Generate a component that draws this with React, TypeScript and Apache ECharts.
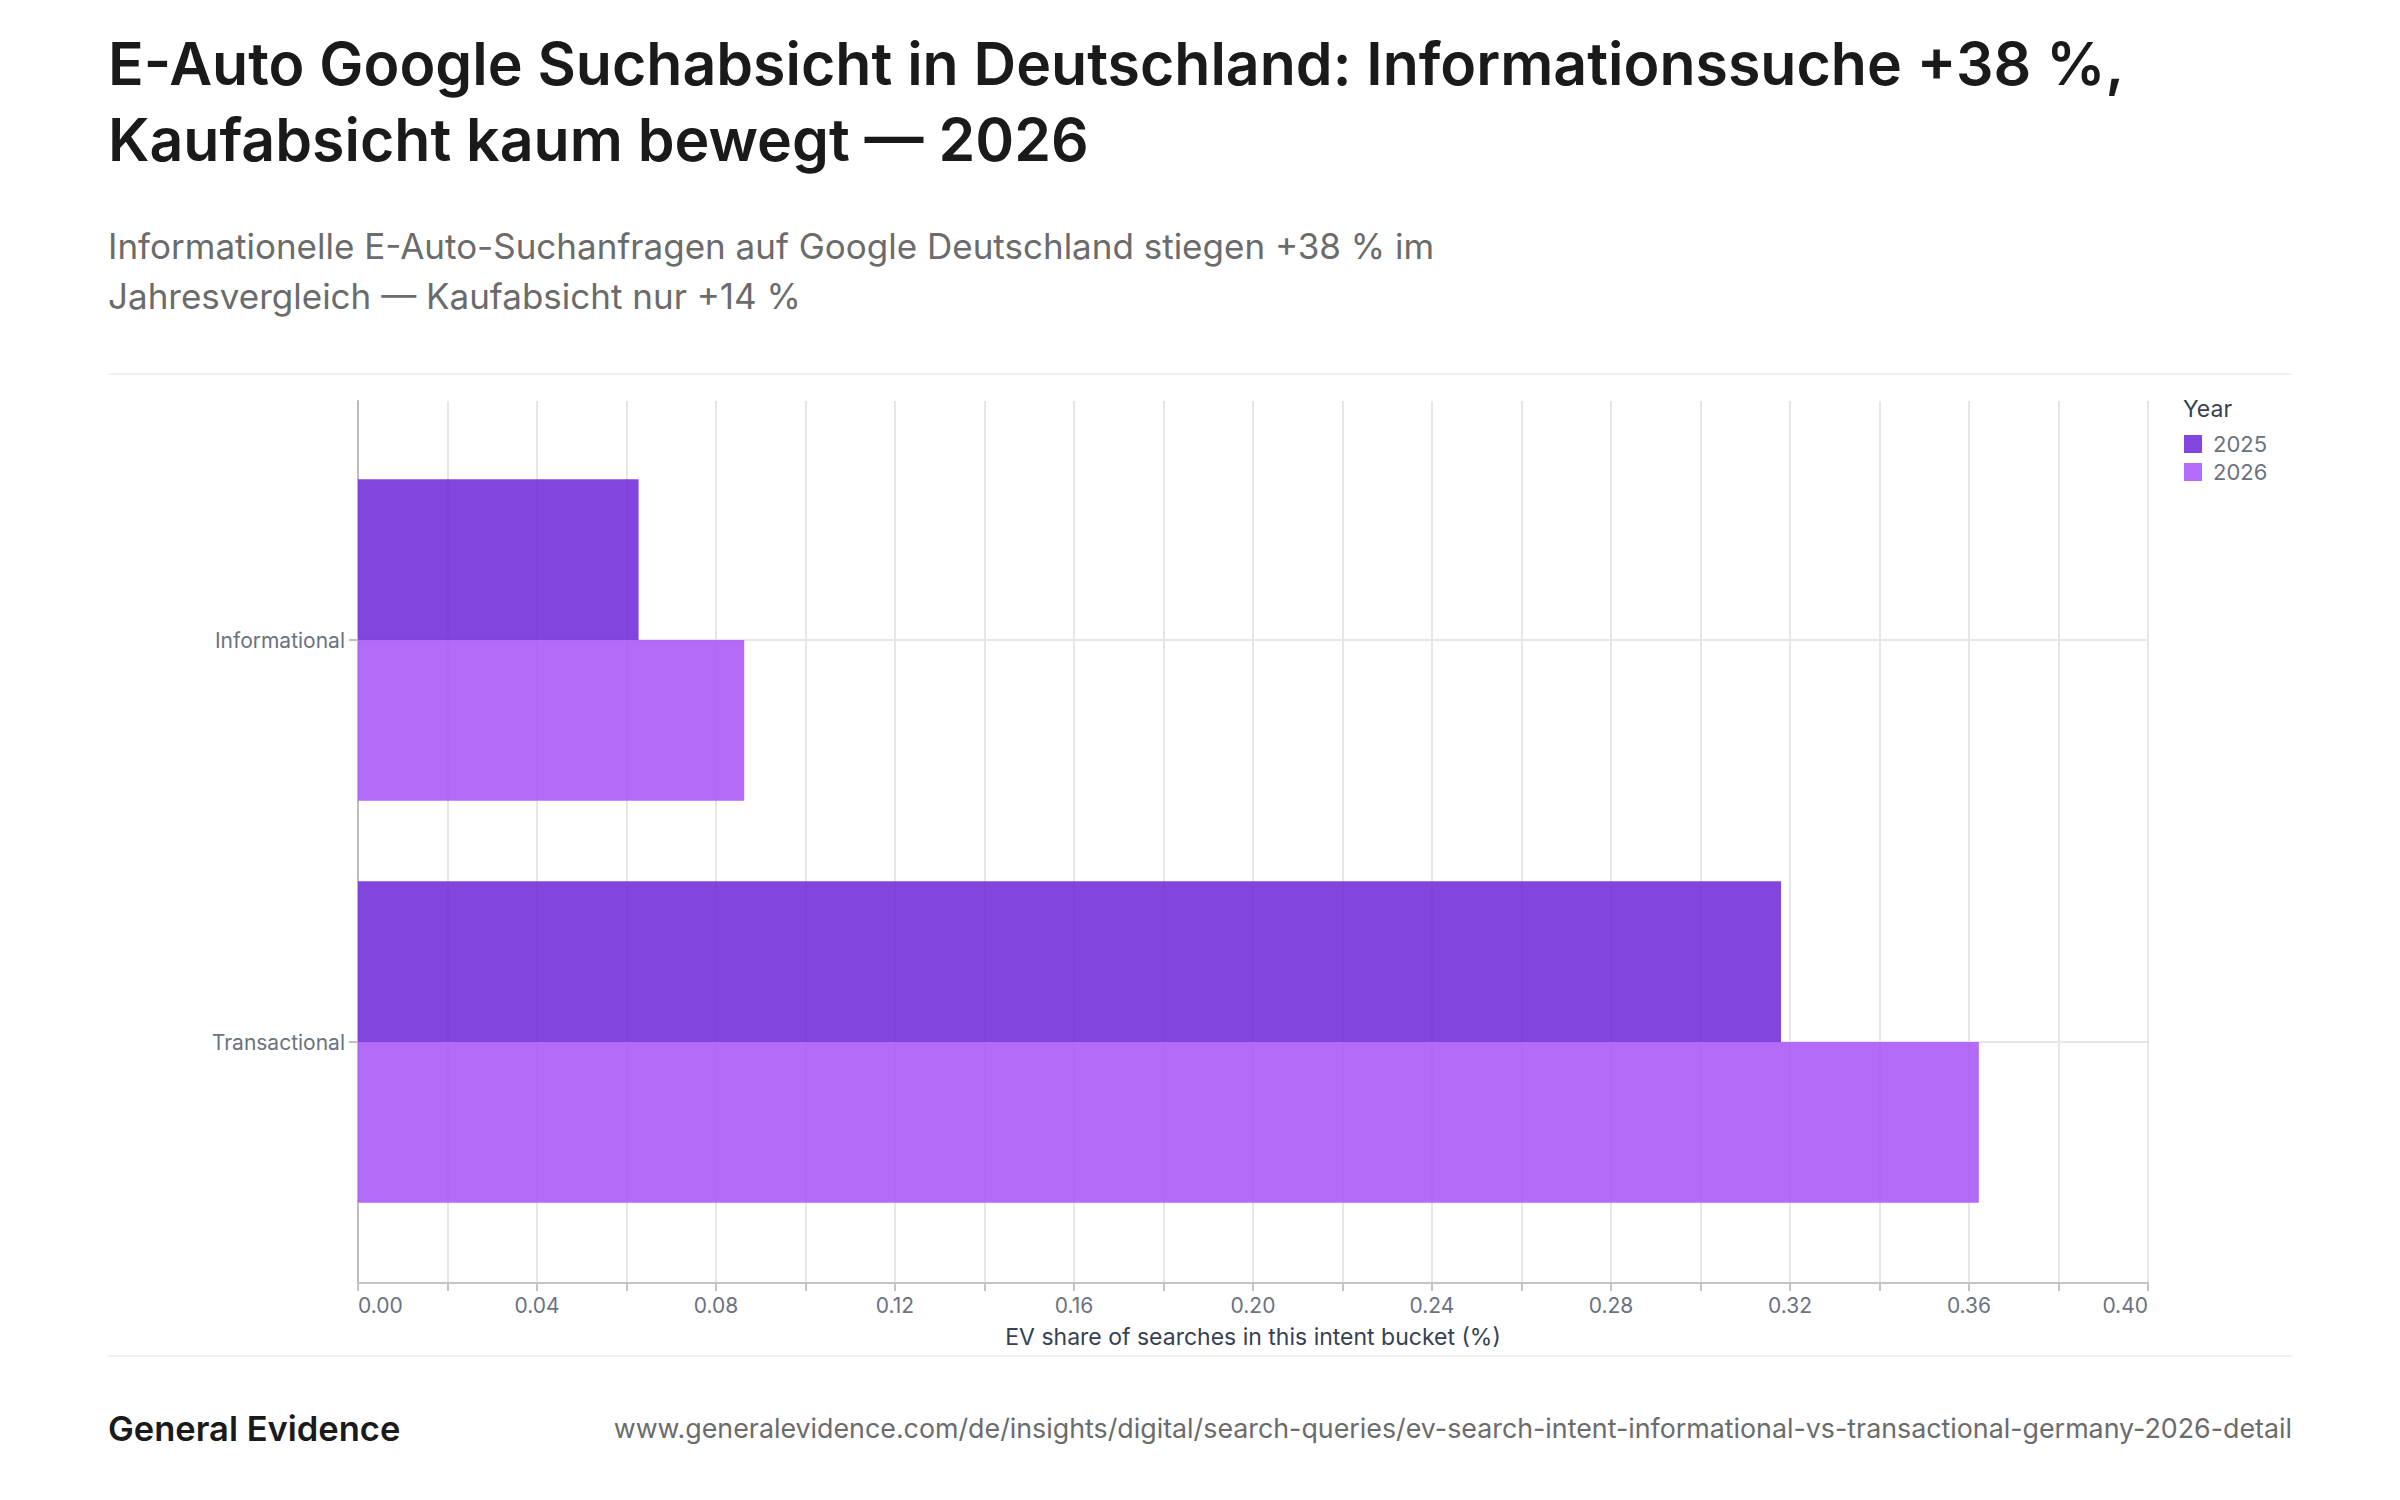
import React, { useEffect, useRef } from 'react';
import * as echarts from 'echarts';

// Werte
const categories = ['Informational', 'Transactional'];
const years = ['2025', '2026'];
const share2025 = [0.0627, 0.318];
const share2026 = [0.0863, 0.3622];
const xMin = 0;
const xMax = 0.4;
const xStep = 0.02;

const titleLines = [
  'E-Auto Google Suchabsicht in Deutschland: Informationssuche +38 %,',
  'Kaufabsicht kaum bewegt — 2026',
];
const subtitleLines = [
  'Informationelle E-Auto-Suchanfragen auf Google Deutschland stiegen +38 % im',
  'Jahresvergleich — Kaufabsicht nur +14 %',
];
const xAxisName = 'EV share of searches in this intent bucket (%)';
const legendTitle = 'Year';
const brand = 'General Evidence';
const sourceUrl =
  'www.generalevidence.com/de/insights/digital/search-queries/ev-search-intent-informational-vs-transactional-germany-2026-detail';

const FONT = 'Inter, "Noto Sans", sans-serif';
const colors = ['#6D28D9', '#A855F7'];
const gridColor = '#e6e6e6';
const axisColor = '#c4c4c4';

const App: React.FC = () => {
  const chartRef = useRef<HTMLDivElement>(null);

  useEffect(() => {
    document.body.style.margin = '0';
    if (!chartRef.current) return;
    const chart = echarts.init(chartRef.current, undefined, { renderer: 'svg' });

    const option: any = {
      animation: false,
      backgroundColor: '#ffffff',
      textStyle: { fontFamily: FONT },
      grid: [
        // Rahmen mit Achsen und Gitterlinien
        { left: 358, right: 252, top: 401, bottom: 217 },
        // Balkenbereich (mit Innenabstand wie im Original)
        { left: 358, right: 252, top: 439, bottom: 257 },
      ],
      xAxis: [
        {
          gridIndex: 0,
          type: 'value',
          min: xMin,
          max: xMax,
          interval: xStep,
          name: xAxisName,
          nameLocation: 'middle',
          nameGap: 42,
          nameTextStyle: { color: '#374151', fontSize: 23, fontFamily: FONT },
          axisLine: { show: true, lineStyle: { color: axisColor, width: 2 } },
          axisTick: { show: true, length: 8, lineStyle: { color: axisColor, width: 2 } },
          axisLabel: {
            color: '#6b7280',
            fontSize: 21,
            margin: 12,
            fontFamily: FONT,
            alignMinLabel: 'left',
            alignMaxLabel: 'right',
            formatter: (v: number) => (Math.round(v * 100) % 4 === 0 ? v.toFixed(2) : ''),
          },
          splitLine: { show: true, lineStyle: { color: gridColor, width: 2 } },
        },
        {
          gridIndex: 1,
          type: 'value',
          min: xMin,
          max: xMax,
          show: false,
        },
      ],
      yAxis: [
        {
          gridIndex: 0,
          type: 'value',
          min: 0,
          max: 1,
          axisLine: { show: true, lineStyle: { color: '#bdbdbd', width: 2 } },
          axisTick: { show: false },
          axisLabel: { show: false },
          splitLine: { show: false },
        },
        {
          gridIndex: 1,
          type: 'category',
          data: categories,
          inverse: true,
          axisLine: { show: false },
          axisTick: {
            show: true,
            alignWithLabel: true,
            length: 9,
            lineStyle: { color: '#bdbdbd', width: 2 },
          },
          axisLabel: { color: '#6b7280', fontSize: 21, margin: 13, fontFamily: FONT },
          splitLine: { show: false },
        },
      ],
      legend: {
        orient: 'vertical',
        left: 2184,
        top: 433,
        padding: 0,
        data: years,
        icon: 'rect',
        itemWidth: 18,
        itemHeight: 18,
        itemGap: 6,
        textStyle: {
          color: '#6b7280',
          fontSize: 22,
          fontFamily: FONT,
          padding: [0, 0, 0, 6],
        },
      },
      series: [
        {
          // nur für die waagrechten Gitterlinien in Kategoriemitte
          type: 'line',
          xAxisIndex: 1,
          yAxisIndex: 1,
          data: [],
          silent: true,
          z: 1,
          markLine: {
            silent: true,
            z: 1,
            symbol: ['none', 'none'],
            label: { show: false },
            lineStyle: { color: gridColor, width: 2, type: 'solid' },
            data: categories.map((c) => ({ yAxis: c })),
          },
        },
        {
          name: years[0],
          type: 'bar',
          xAxisIndex: 1,
          yAxisIndex: 1,
          data: share2025,
          barGap: '0%',
          barCategoryGap: '20%',
          itemStyle: { color: colors[0], opacity: 0.86 },
          z: 2,
        },
        {
          name: years[1],
          type: 'bar',
          xAxisIndex: 1,
          yAxisIndex: 1,
          data: share2026,
          barGap: '0%',
          barCategoryGap: '20%',
          itemStyle: { color: colors[1], opacity: 0.87 },
          z: 2,
        },
      ],
      graphic: [
        ...titleLines.map((t, i) => ({
          type: 'text',
          x: 108,
          y: 63 + i * 76,
          style: {
            text: t,
            fill: '#1a1a1a',
            font: `600 59px ${FONT}`,
            verticalAlign: 'middle',
          },
        })),
        ...subtitleLines.map((t, i) => ({
          type: 'text',
          x: 108,
          y: 246 + i * 50,
          style: {
            text: t,
            fill: '#6b6b6b',
            font: `400 35px ${FONT}`,
            verticalAlign: 'middle',
          },
        })),
        {
          type: 'line',
          shape: { x1: 108, y1: 374, x2: 2292, y2: 374 },
          style: { stroke: '#f0f0f0', lineWidth: 2 },
        },
        {
          type: 'line',
          shape: { x1: 108, y1: 1356, x2: 2292, y2: 1356 },
          style: { stroke: '#f0f0f0', lineWidth: 2 },
        },
        {
          type: 'text',
          x: 2183,
          y: 409,
          style: {
            text: legendTitle,
            fill: '#374151',
            font: `400 23px ${FONT}`,
            verticalAlign: 'middle',
          },
        },
        {
          type: 'text',
          x: 108,
          y: 1428,
          style: {
            text: brand,
            fill: '#1a1a1a',
            font: `600 34.5px ${FONT}`,
            verticalAlign: 'middle',
          },
        },
        {
          type: 'text',
          x: 2292,
          y: 1428,
          style: {
            text: sourceUrl,
            fill: '#6b6b6b',
            font: `400 26.8px ${FONT}`,
            align: 'right',
            verticalAlign: 'middle',
          },
        },
      ],
    };

    chart.setOption(option);

    return () => {
      chart.dispose();
    };
  }, []);

  return <div ref={chartRef} style={{ width: 2400, height: 1500 }} />;
};

export default App;
